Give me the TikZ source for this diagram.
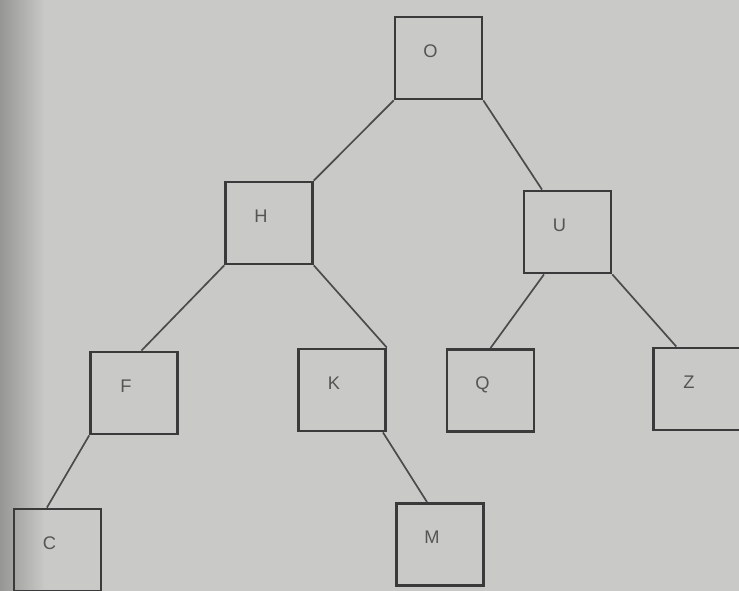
\documentclass[tikz,border=0pt]{standalone}
\usepackage{fontspec}
\setmainfont{Liberation Sans}
\definecolor{paper}{RGB}{201,201,199}
\definecolor{paperdark}{RGB}{150,150,148}
\definecolor{boxgray}{RGB}{58,58,58}
\definecolor{linegray}{RGB}{75,75,75}
\definecolor{textgray}{RGB}{85,85,85}
\begin{document}
\begin{tikzpicture}[
    x=0.025cm, y=-0.025cm,
    box/.style={rectangle, draw=boxgray, line width=2pt, minimum width=2.17cm, minimum height=2.05cm, inner sep=0pt, font=\fontsize{13}{13}\selectfont, text=textgray, text depth=0.35cm, execute at end node={\hspace{0.4cm}}},
    edge/.style={draw=linegray, line width=1.2pt}
]
% Paper background
\useasboundingbox (0,0) rectangle (739,591);
\fill[paper] (0,0) rectangle (739,591);
\shade[left color=paperdark, right color=paper] (0,0) rectangle (45,591);
% Tree nodes, level by level
\node[box] (O) at (438.5,58) {O};
\node[box] (H) at (269,223) {H};
\node[box] (U) at (567.5,232) {U};
\node[box] (F) at (134,393) {F};
\node[box] (K) at (342,390) {K};
\node[box] (Q) at (490.5,390.5) {Q};
\node[box] (Z) at (697,389) {Z};
\node[box] (C) at (57.5,550) {C};
\node[box] (M) at (440,544.5) {M};
% Links between parent and child
\draw[edge] (O.south west) -- (H.north east);
\draw[edge] (O.south east) -- (U.121);
\draw[edge] (H.south west) -- (F.80);
\draw[edge] (H.south east) -- (K.north east);
\draw[edge] (U.241) -- (Q.north);
\draw[edge] (U.south east) -- (Z.116);
\draw[edge] (F.south west) -- (C.104);
\draw[edge] (K.314) -- (M.107);
\end{tikzpicture}
\end{document}
